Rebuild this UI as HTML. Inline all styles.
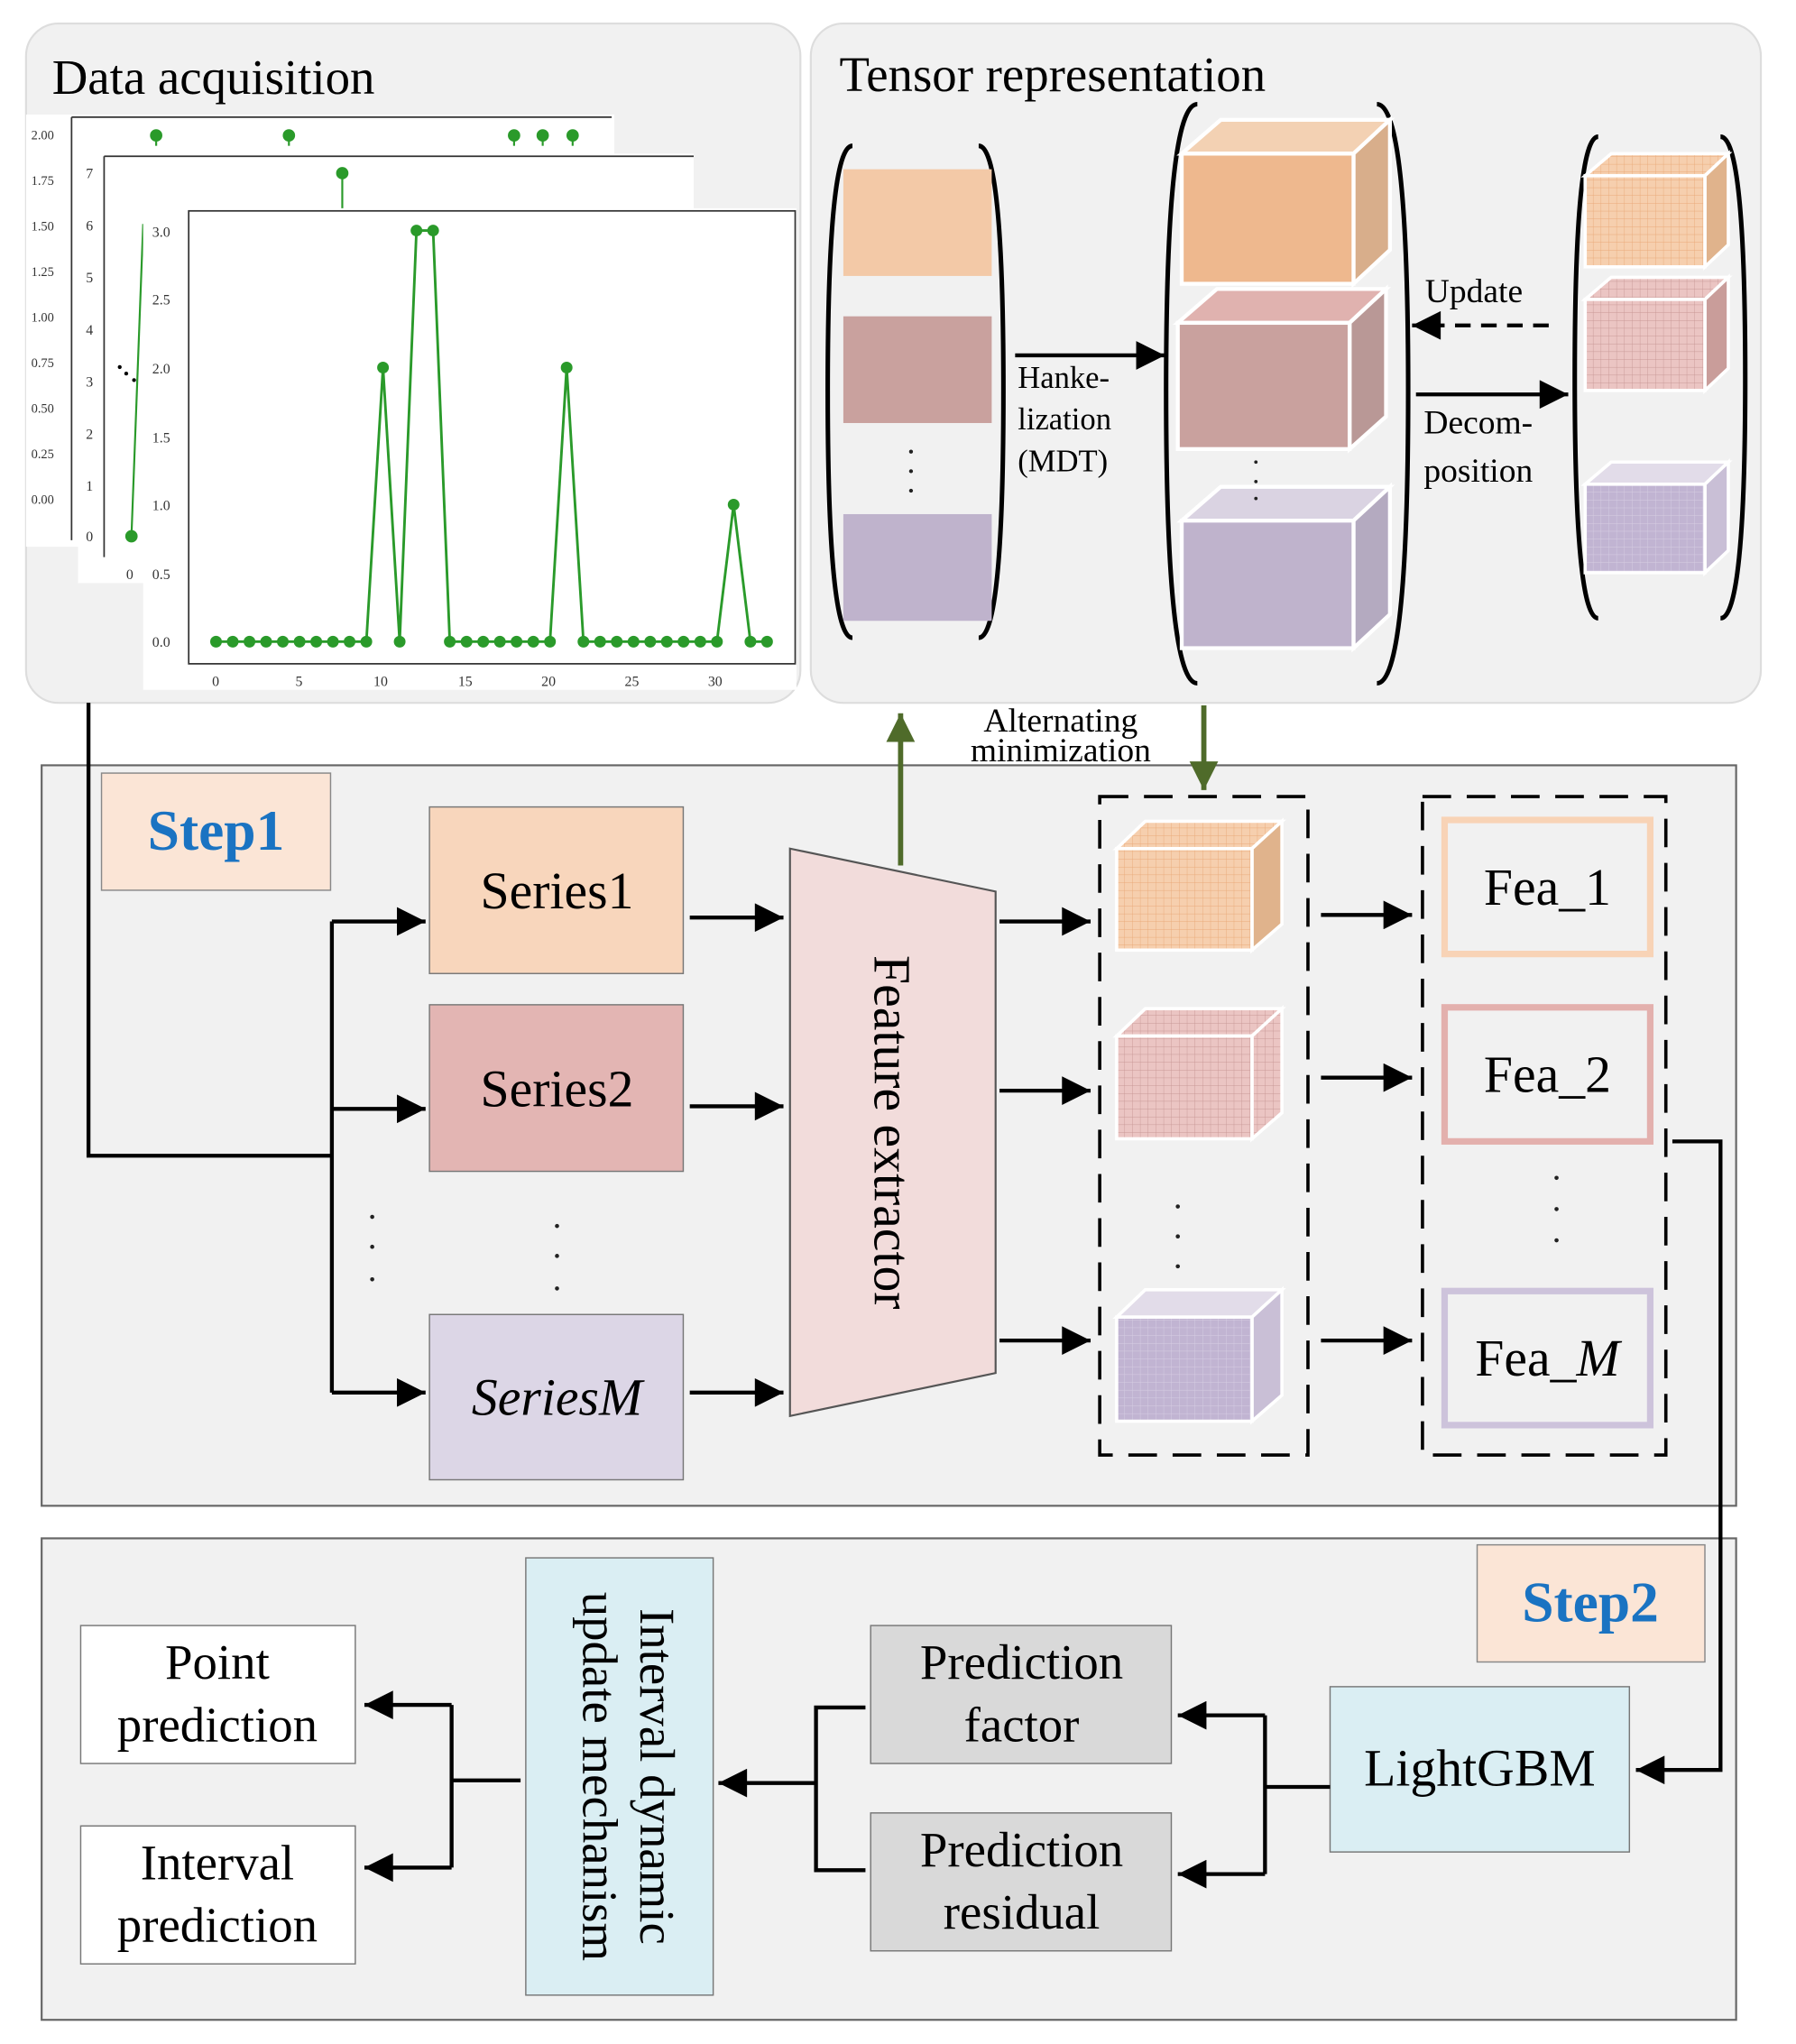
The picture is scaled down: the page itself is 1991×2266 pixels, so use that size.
<!DOCTYPE html>
<html><head><meta charset="utf-8"><style>
html,body{margin:0;padding:0;background:#fff}
svg{display:block}
text{font-family:"Liberation Serif",serif}
</style></head><body>
<svg width="1991" height="2266" viewBox="0 0 1380 1570.5" xmlns="http://www.w3.org/2000/svg">
<defs>
<marker id="ah" viewBox="0 0 10 10" refX="10" refY="5" markerWidth="30" markerHeight="22" markerUnits="userSpaceOnUse" orient="auto"><path d="M0,0L10,5L0,10z" fill="#000"/></marker>
<marker id="ag" viewBox="0 0 10 10" refX="10" refY="5" markerWidth="32" markerHeight="22" markerUnits="userSpaceOnUse" orient="auto"><path d="M0,0L10,5L0,10z" fill="#4f6b2a"/></marker>
<pattern id="gO" width="6" height="6" patternUnits="userSpaceOnUse"><rect width="6" height="6" fill="#f6cfae"/><path d="M0,0H6M0,0V6" stroke="#e9a877" stroke-width="0.6"/></pattern>
<pattern id="gP" width="6" height="6" patternUnits="userSpaceOnUse"><rect width="6" height="6" fill="#ebc5c3"/><path d="M0,0H6M0,0V6" stroke="#c79795" stroke-width="0.6"/></pattern>
<pattern id="gV" width="6" height="6" patternUnits="userSpaceOnUse"><rect width="6" height="6" fill="#c1b4d2"/><path d="M0,0H6M0,0V6" stroke="#d8cfe4" stroke-width="0.6"/></pattern>
</defs>
<rect width="1380" height="1571" fill="#fff"/>

<rect x="20" y="18" width="595" height="522" rx="25" fill="#f1f1f1" stroke="#ddd" stroke-width="1.5"/>
<rect x="623" y="18" width="730" height="522" rx="25" fill="#f1f1f1" stroke="#ddd" stroke-width="1.5"/>
<text x="40" y="72" font-size="38">Data acquisition</text>
<text x="645" y="70" font-size="38">Tensor representation</text>

<rect x="20" y="88" width="452" height="332" fill="#fff"/>
<path d="M55,90H470M55,90V415" stroke="#333" stroke-width="1.2" fill="none"/>
<g font-size="10" font-family="Liberation Sans" fill="#333">
<text x="24" y="107">2.00</text><text x="24" y="142">1.75</text><text x="24" y="177">1.50</text><text x="24" y="212">1.25</text><text x="24" y="247">1.00</text><text x="24" y="282">0.75</text><text x="24" y="317">0.50</text><text x="24" y="352">0.25</text><text x="24" y="387">0.00</text>
</g>
<g stroke="#2a9a2a" stroke-width="1.5" fill="#2a9a2a">
<line x1="120" y1="105" x2="120" y2="112"/><circle cx="120" cy="104" r="4"/>
<line x1="222" y1="105" x2="222" y2="112"/><circle cx="222" cy="104" r="4"/>
<line x1="395" y1="105" x2="395" y2="112"/><circle cx="395" cy="104" r="4"/>
<line x1="417" y1="105" x2="417" y2="112"/><circle cx="417" cy="104" r="4"/>
<line x1="440" y1="105" x2="440" y2="112"/><circle cx="440" cy="104" r="4"/>
</g>
<rect x="60" y="118" width="473" height="330" fill="#fff"/>
<path d="M80,120H533M80,120V428" stroke="#333" stroke-width="1.2" fill="none"/>
<g font-size="11" font-family="Liberation Sans" fill="#333">
<text x="66" y="137">7</text><text x="66" y="177">6</text><text x="66" y="217">5</text><text x="66" y="257">4</text><text x="66" y="297">3</text><text x="66" y="337">2</text><text x="66" y="377">1</text><text x="66" y="416">0</text><text x="97" y="445">0</text>
</g>
<g stroke="#2a9a2a" stroke-width="1.5" fill="#2a9a2a">
<polyline points="101,412 110,172" fill="none"/><circle cx="101" cy="412" r="4"/>
<line x1="263" y1="133" x2="263" y2="160"/><circle cx="263" cy="133" r="4"/>
</g>
<circle cx="92" cy="282" r="1.5" fill="#000"/><circle cx="97" cy="287" r="1.5" fill="#000"/><circle cx="103" cy="292" r="1.5" fill="#000"/>

<rect x="110" y="160" width="502" height="370" fill="#fff"/>
<rect x="145" y="162" width="466" height="348" fill="#fff" stroke="#333" stroke-width="1.2"/>
<g font-size="11" font-family="Liberation Sans" fill="#333">
<text x="117" y="182">3.0</text><text x="117" y="234">2.5</text><text x="117" y="287">2.0</text><text x="117" y="340">1.5</text><text x="117" y="392">1.0</text><text x="117" y="445">0.5</text><text x="117" y="497">0.0</text>
<text x="163" y="527">0</text><text x="227" y="527">5</text><text x="287" y="527">10</text><text x="352" y="527">15</text><text x="416" y="527">20</text><text x="480" y="527">25</text><text x="544" y="527">30</text>
</g>
<g stroke="#2a9a2a" stroke-width="2" fill="#2a9a2a">
<polyline fill="none" points="166,493 178.8,493 191.7,493 204.5,493 217.3,493 230.2,493 243,493 255.8,493 268.6,493 281.5,493 294.3,282.4 307.1,493 320,177.1 332.8,177.1 345.6,493 358.5,493 371.3,493 384.1,493 396.9,493 409.8,493 422.6,493 435.4,282.4 448.3,493 461.1,493 473.9,493 486.8,493 499.6,493 512.4,493 525.2,493 538.1,493 550.9,493 563.7,387.7 576.6,493 589.4,493"/>
<g stroke="none">
<circle cx="166" cy="493" r="4.5"/><circle cx="178.8" cy="493" r="4.5"/><circle cx="191.7" cy="493" r="4.5"/><circle cx="204.5" cy="493" r="4.5"/><circle cx="217.3" cy="493" r="4.5"/><circle cx="230.2" cy="493" r="4.5"/><circle cx="243" cy="493" r="4.5"/><circle cx="255.8" cy="493" r="4.5"/><circle cx="268.6" cy="493" r="4.5"/><circle cx="281.5" cy="493" r="4.5"/><circle cx="294.3" cy="282.4" r="4.5"/><circle cx="307.1" cy="493" r="4.5"/><circle cx="320" cy="177.1" r="4.5"/><circle cx="332.8" cy="177.1" r="4.5"/><circle cx="345.6" cy="493" r="4.5"/><circle cx="358.5" cy="493" r="4.5"/><circle cx="371.3" cy="493" r="4.5"/><circle cx="384.1" cy="493" r="4.5"/><circle cx="396.9" cy="493" r="4.5"/><circle cx="409.8" cy="493" r="4.5"/><circle cx="422.6" cy="493" r="4.5"/><circle cx="435.4" cy="282.4" r="4.5"/><circle cx="448.3" cy="493" r="4.5"/><circle cx="461.1" cy="493" r="4.5"/><circle cx="473.9" cy="493" r="4.5"/><circle cx="486.8" cy="493" r="4.5"/><circle cx="499.6" cy="493" r="4.5"/><circle cx="512.4" cy="493" r="4.5"/><circle cx="525.2" cy="493" r="4.5"/><circle cx="538.1" cy="493" r="4.5"/><circle cx="550.9" cy="493" r="4.5"/><circle cx="563.7" cy="387.7" r="4.5"/><circle cx="576.6" cy="493" r="4.5"/><circle cx="589.4" cy="493" r="4.5"/>
</g></g>

<g fill="none" stroke="#000" stroke-width="3.5">
<path d="M655,112 Q636,112 636,300 Q636,490 655,490"/>
<path d="M752,112 Q771,112 771,300 Q771,490 752,490"/>
<path d="M920,80 Q896,80 896,300 Q896,525 920,525"/>
<path d="M1058,80 Q1082,80 1082,300 Q1082,525 1058,525"/>
<path d="M1228,105 Q1210,105 1210,290 Q1210,475 1228,475"/>
<path d="M1322,105 Q1341,105 1341,290 Q1341,475 1322,475"/>
</g>
<rect x="648" y="130" width="114" height="82" fill="#f3c9a7"/>
<rect x="648" y="243" width="114" height="82" fill="#c9a19e"/>
<rect x="648" y="395" width="114" height="82" fill="#bfb3cc"/>
<g fill="#222"><circle cx="700" cy="347" r="1.5"/><circle cx="700" cy="362" r="1.5"/><circle cx="700" cy="377" r="1.5"/></g>
<line x1="780" y1="273" x2="895" y2="273" stroke="#000" stroke-width="3" marker-end="url(#ah)"/>
<g font-size="24"><text x="782" y="298">Hanke-</text><text x="782" y="330">lization</text><text x="782" y="362">(MDT)</text></g>

<g stroke="#fff" stroke-width="3">
<path d="M908,118 L938,92 H1068 L1040,118Z" fill="#f3d1b3"/><path d="M1040,118 L1068,92 V192 L1040,218Z" fill="#d8ae8b"/><rect x="908" y="118" width="132" height="100" fill="#eeb88e"/>
<path d="M905,248 L935,222 H1065 L1037,248Z" fill="#e0b2af"/><path d="M1037,248 L1065,222 V320 L1037,345Z" fill="#b99896"/><rect x="905" y="248" width="132" height="97" fill="#c9a19e"/>
<path d="M908,400 L938,374 H1068 L1040,400Z" fill="#dad3e2"/><path d="M1040,400 L1068,374 V472 L1040,498Z" fill="#b4aac0"/><rect x="908" y="400" width="132" height="98" fill="#bfb3cc"/>
</g>
<g fill="#222"><circle cx="965" cy="355" r="1.3"/><circle cx="965" cy="370" r="1.3"/><circle cx="965" cy="383" r="1.3"/></g>
<line x1="1190" y1="250" x2="1085" y2="250" stroke="#000" stroke-width="3" stroke-dasharray="12,8" marker-end="url(#ah)"/>
<text x="1095" y="232" font-size="26">Update</text>
<line x1="1088" y1="303" x2="1205" y2="303" stroke="#000" stroke-width="3" marker-end="url(#ah)"/>
<g font-size="26"><text x="1094" y="333">Decom-</text><text x="1094" y="370">position</text></g>

<g stroke="#fff" stroke-width="2.5">
<path d="M1218,135 L1238,118 H1328 L1310,135Z" fill="url(#gO)"/><path d="M1310,135 L1328,118 V188 L1310,205Z" fill="#e0b38c"/><rect x="1218" y="135" width="92" height="70" fill="url(#gO)"/>
<path d="M1218,230 L1238,213 H1328 L1310,230Z" fill="url(#gP)"/><path d="M1310,230 L1328,213 V283 L1310,300Z" fill="#c99d9a"/><rect x="1218" y="230" width="92" height="70" fill="url(#gP)"/>
<path d="M1218,372 L1238,355 H1328 L1310,372Z" fill="#e2dce9"/><path d="M1310,372 L1328,355 V423 L1310,440Z" fill="#c9bfd6"/><rect x="1218" y="372" width="92" height="68" fill="url(#gV)"/>
</g>

<rect x="32" y="588" width="1302" height="569" fill="#f1f1f1" stroke="#666" stroke-width="1.5"/>
<rect x="78" y="594" width="176" height="90" fill="#fbe5d6" stroke="#888" stroke-width="1"/>
<text x="166" y="653" font-size="44" font-weight="bold" fill="#1a73c2" text-anchor="middle">Step1</text>

<path d="M68,540 V888 H255" fill="none" stroke="#000" stroke-width="3"/>
<path d="M255,708 V1070" fill="none" stroke="#000" stroke-width="3"/>
<g stroke="#000" stroke-width="3">
<line x1="255" y1="708" x2="327" y2="708" marker-end="url(#ah)"/>
<line x1="255" y1="852" x2="327" y2="852" marker-end="url(#ah)"/>
<line x1="255" y1="1070" x2="327" y2="1070" marker-end="url(#ah)"/>
</g>
<g fill="#222"><circle cx="286" cy="935" r="1.6"/><circle cx="286" cy="958" r="1.6"/><circle cx="286" cy="983" r="1.6"/><circle cx="428" cy="942" r="1.6"/><circle cx="428" cy="965" r="1.6"/><circle cx="428" cy="990" r="1.6"/></g>

<rect x="330" y="620" width="195" height="128" fill="#f8d6bc" stroke="#777"/>
<rect x="330" y="772" width="195" height="128" fill="#e3b5b3" stroke="#777"/>
<rect x="330" y="1010" width="195" height="127" fill="#dcd6e6" stroke="#777"/>
<g font-size="40" text-anchor="middle"><text x="428" y="698">Series1</text><text x="428" y="850">Series2</text><text x="428" y="1087" font-style="italic">SeriesM</text></g>

<g stroke="#000" stroke-width="3">
<line x1="530" y1="705" x2="602" y2="705" marker-end="url(#ah)"/>
<line x1="530" y1="850" x2="602" y2="850" marker-end="url(#ah)"/>
<line x1="530" y1="1070" x2="602" y2="1070" marker-end="url(#ah)"/>
</g>
<path d="M607,652 L765,685 V1055 L607,1088Z" fill="#f2dcdb" stroke="#555" stroke-width="1.5"/>
<text x="0" y="0" font-size="40" text-anchor="middle" transform="translate(672,870) rotate(90)">Feature extractor</text>

<line x1="692" y1="665" x2="692" y2="548" stroke="#4f6b2a" stroke-width="4" marker-end="url(#ag)"/>
<line x1="925" y1="542" x2="925" y2="607" stroke="#4f6b2a" stroke-width="4" marker-end="url(#ag)"/>
<g font-size="26" text-anchor="middle"><text x="815" y="562">Alternating</text><text x="815" y="585">minimization</text></g>

<g stroke="#000" stroke-width="3">
<line x1="768" y1="708" x2="838" y2="708" marker-end="url(#ah)"/>
<line x1="768" y1="838" x2="838" y2="838" marker-end="url(#ah)"/>
<line x1="768" y1="1030" x2="838" y2="1030" marker-end="url(#ah)"/>
</g>
<rect x="845" y="612" width="160" height="506" fill="none" stroke="#000" stroke-width="2.5" stroke-dasharray="22,12"/>
<g stroke="#fff" stroke-width="2.5">
<path d="M858,652 L880,631 H985 L962,652Z" fill="url(#gO)"/><path d="M962,652 L985,631 V710 L962,730Z" fill="#e0b38c"/><rect x="858" y="652" width="104" height="78" fill="url(#gO)"/>
<path d="M858,796 L880,775 H985 L962,796Z" fill="url(#gP)"/><path d="M962,796 L985,775 V855 L962,875Z" fill="url(#gP)"/><rect x="858" y="796" width="104" height="79" fill="url(#gP)"/>
<path d="M858,1012 L880,991 H985 L962,1012Z" fill="#e2dce9"/><path d="M962,1012 L985,991 V1072 L962,1092Z" fill="#c9bfd6"/><rect x="858" y="1012" width="104" height="80" fill="url(#gV)"/>
</g>
<g fill="#222"><circle cx="905" cy="927" r="1.6"/><circle cx="905" cy="950" r="1.6"/><circle cx="905" cy="973" r="1.6"/><circle cx="1196" cy="905" r="1.6"/><circle cx="1196" cy="929" r="1.6"/><circle cx="1196" cy="953" r="1.6"/></g>

<g stroke="#000" stroke-width="3">
<line x1="1015" y1="703" x2="1085" y2="703" marker-end="url(#ah)"/>
<line x1="1015" y1="828" x2="1085" y2="828" marker-end="url(#ah)"/>
<line x1="1015" y1="1030" x2="1085" y2="1030" marker-end="url(#ah)"/>
</g>
<rect x="1093" y="612" width="187" height="506" fill="none" stroke="#000" stroke-width="2.5" stroke-dasharray="22,12"/>
<rect x="1110" y="630" width="158" height="103" fill="none" stroke="#f8d3b6" stroke-width="5"/>
<rect x="1110" y="774" width="158" height="103" fill="none" stroke="#e3b0ad" stroke-width="5"/>
<rect x="1110" y="992" width="158" height="103" fill="none" stroke="#cdc3db" stroke-width="5"/>
<g font-size="40" text-anchor="middle"><text x="1189" y="695">Fea_1</text><text x="1189" y="839">Fea_2</text><text x="1189" y="1057">Fea_<tspan font-style="italic">M</tspan></text></g>

<rect x="32" y="1182" width="1302" height="370" fill="#f1f1f1" stroke="#666" stroke-width="1.5"/>
<path d="M1285,877 H1322 V1360 H1257" fill="none" stroke="#000" stroke-width="3" marker-end="url(#ah)"/>
<rect x="1135" y="1187" width="175" height="90" fill="#fbe5d6" stroke="#888"/>
<text x="1222" y="1246" font-size="44" font-weight="bold" fill="#1a73c2" text-anchor="middle">Step2</text>

<rect x="1022" y="1296" width="230" height="127" fill="#daeef3" stroke="#777"/>
<text x="1137" y="1372" font-size="40" text-anchor="middle">LightGBM</text>
<path d="M1022,1373 H972 M972,1318 V1440" fill="none" stroke="#000" stroke-width="3"/>
<line x1="972" y1="1318" x2="905" y2="1318" stroke="#000" stroke-width="3" marker-end="url(#ah)"/>
<line x1="972" y1="1440" x2="905" y2="1440" stroke="#000" stroke-width="3" marker-end="url(#ah)"/>

<rect x="669" y="1249" width="231" height="106" fill="#d9d9d9" stroke="#777"/>
<rect x="669" y="1393" width="231" height="106" fill="#d9d9d9" stroke="#777"/>
<g font-size="38" text-anchor="middle"><text x="785" y="1290">Prediction</text><text x="785" y="1338">factor</text><text x="785" y="1434">Prediction</text><text x="785" y="1482">residual</text></g>
<path d="M665,1312 H627 V1437 H665" fill="none" stroke="#000" stroke-width="3"/>
<line x1="627" y1="1370" x2="552" y2="1370" stroke="#000" stroke-width="3" marker-end="url(#ah)"/>

<rect x="404" y="1197" width="144" height="336" fill="#daeef3" stroke="#777"/>
<g font-size="38" text-anchor="middle" transform="translate(476,1365) rotate(90)"><text x="0" y="-16">Interval dynamic</text><text x="0" y="28">update mechanism</text></g>
<path d="M400,1368 H347 M347,1310 V1435" fill="none" stroke="#000" stroke-width="3"/>
<line x1="347" y1="1310" x2="280" y2="1310" stroke="#000" stroke-width="3" marker-end="url(#ah)"/>
<line x1="347" y1="1435" x2="280" y2="1435" stroke="#000" stroke-width="3" marker-end="url(#ah)"/>

<rect x="62" y="1249" width="211" height="106" fill="#fff" stroke="#777"/>
<rect x="62" y="1403" width="211" height="106" fill="#fff" stroke="#777"/>
<g font-size="38" text-anchor="middle"><text x="167" y="1290">Point</text><text x="167" y="1338">prediction</text><text x="167" y="1444">Interval</text><text x="167" y="1492">prediction</text></g>
</svg>
</body></html>
